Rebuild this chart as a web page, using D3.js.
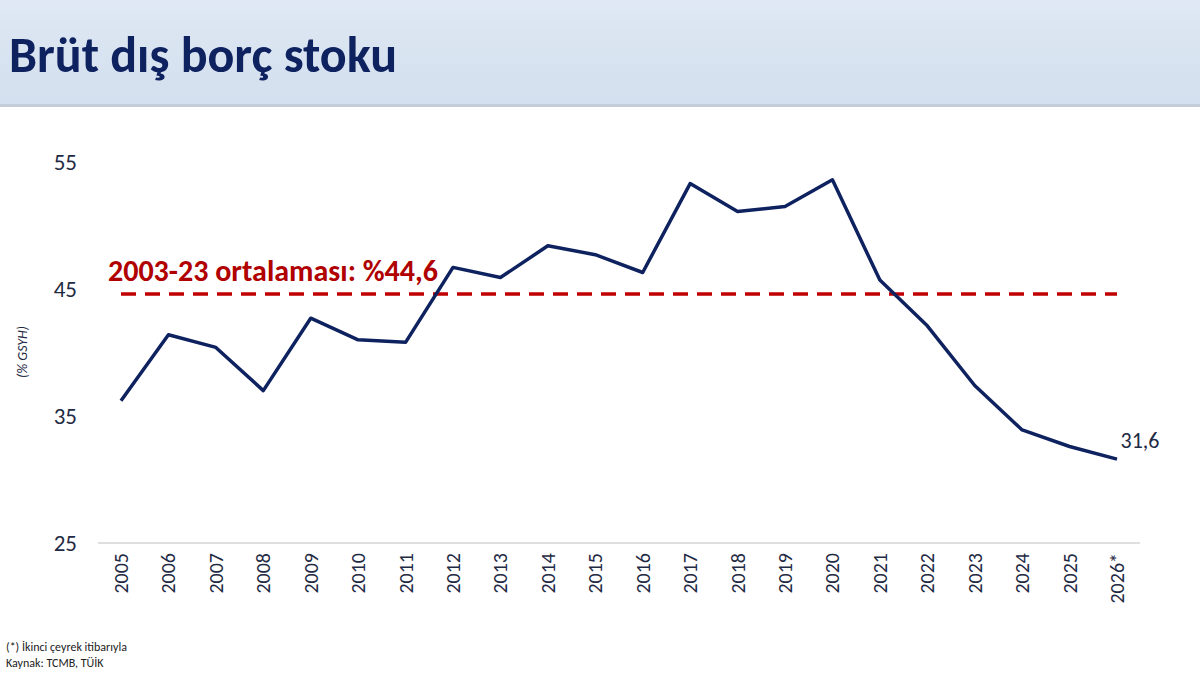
<!DOCTYPE html>
<html><head><meta charset="utf-8">
<script src="https://cdn.jsdelivr.net/npm/d3@7"></script>
<style>body{margin:0;background:#fff;font-family:Calibri,Carlito,"Liberation Sans",Arial,sans-serif}</style>
</head><body><svg id="c" width="1200" height="675"></svg>
<script>
const years=["2005","2006","2007","2008","2009","2010","2011","2012","2013","2014","2015","2016","2017","2018","2019","2020","2021","2022","2023","2024","2025","2026*"];
const values=[36.2,41.4,40.4,37.0,42.7,41.0,40.8,46.7,45.9,48.4,47.7,46.3,53.3,51.1,51.5,53.6,45.7,42.1,37.4,33.9,32.6,31.6];
const yTicks=[25,35,45,55];
const average=44.6;
const svg=d3.select("#c");
const defs=svg.append("defs");
const g0=defs.append("linearGradient").attr("id","hg").attr("x1",0).attr("x2",0).attr("y1",0).attr("y2",1);
g0.append("stop").attr("offset","0%").attr("stop-color","#dfe8f4");
g0.append("stop").attr("offset","100%").attr("stop-color","#d3dfee");
svg.append("rect").attr("width",1200).attr("height",106).attr("fill","url(#hg)");
svg.append("rect").attr("y",104).attr("width",1200).attr("height",3).attr("fill","#c4cdd8");
svg.append("text").attr("x",9).attr("y",72).attr("font-size",50).attr("font-weight","bold").attr("fill","#0f2260").text("Brüt dış borç stoku");
const x=d3.scalePoint().domain(years).range([121,1117]);
const y=d3.scaleLinear().domain([25,55]).range([543,162]);
svg.append("line").attr("x1",98).attr("x2",1140).attr("y1",y(25)).attr("y2",y(25)).attr("stroke","#bfbfbf");
svg.selectAll(".yt").data(yTicks).enter().append("text").attr("x",77).attr("y",d=>y(d)+8).attr("text-anchor","end").attr("font-size",23).attr("fill","#1f2a44").text(d=>d);
svg.selectAll(".xt").data(years).enter().append("text").attr("transform",d=>`translate(${x(d)+7},553) rotate(-90)`).attr("text-anchor","end").attr("font-size",20).attr("fill","#1f2a44").text(d=>d);
svg.append("text").attr("transform","translate(27,352) rotate(-90)").attr("text-anchor","middle").attr("font-size",14).attr("font-style","italic").attr("fill","#1f2a44").text("(% GSYH)");
svg.append("line").attr("x1",x(years[0])).attr("x2",x(years[years.length-1])).attr("y1",y(average)).attr("y2",y(average)).attr("stroke","#c00000").attr("stroke-width",3.5).attr("stroke-dasharray","15,9");
svg.append("text").attr("x",108).attr("y",281).attr("font-size",30).attr("font-weight","bold").attr("fill","#b00000").text("2003-23 ortalaması: %44,6");
svg.append("path").datum(values).attr("fill","none").attr("stroke","#0f2260").attr("stroke-width",3.5).attr("stroke-linejoin","round")
 .attr("d",d3.line().x((d,i)=>x(years[i])).y(d=>y(d)));
svg.append("text").attr("x",1140).attr("y",448).attr("text-anchor","middle").attr("font-size",22).attr("fill","#1f2a44").text("31,6");
svg.append("text").attr("x",6).attr("y",651).attr("font-size",12).attr("fill","#222").text("(*) İkinci çeyrek itibarıyla");
svg.append("text").attr("x",6).attr("y",667).attr("font-size",12).attr("fill","#222").text("Kaynak: TCMB, TÜİK");
</script></body></html>
